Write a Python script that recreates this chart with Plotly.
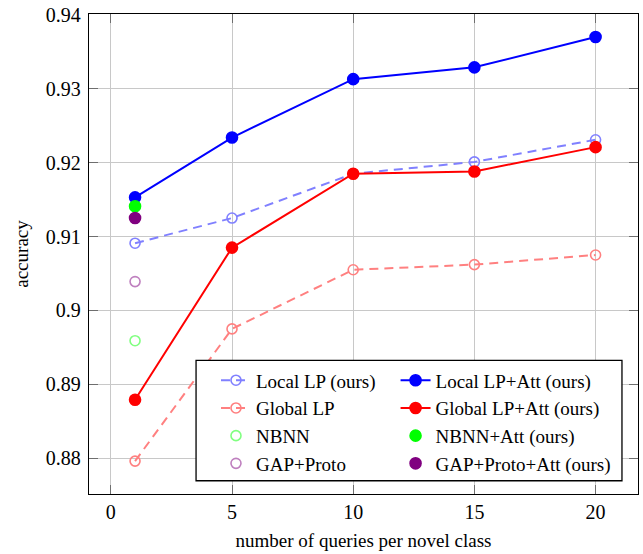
import plotly.graph_objects as go

queries = [1, 5, 10, 15, 20]
local_lp = [0.9091, 0.9125, 0.9185, 0.9201, 0.9231]
local_lp_att = [0.9153, 0.9234, 0.9313, 0.9329, 0.9370]
global_lp = [0.8796, 0.8975, 0.9055, 0.9062, 0.9075]
global_lp_att = [0.8879, 0.9085, 0.9185, 0.9188, 0.9221]
single_x = [1]
nbnn = [0.8959]
nbnn_att = [0.9141]
gap_proto = [0.9039]
gap_proto_att = [0.9125]

x_ticks = [0, 5, 10, 15, 20]
y_ticks = [0.88, 0.89, 0.90, 0.91, 0.92, 0.93, 0.94]
y_tick_text = ["0.88", "0.89", "0.9", "0.91", "0.92", "0.93", "0.94"]

FONT = "Liberation Serif"
fig = go.Figure()

def add(x, y, name, color, dash=None, filled=True, lines=True, legend="legend"):
    fig.add_trace(go.Scatter(
        x=x, y=y, name=name, legend=legend,
        mode="lines+markers" if lines else "markers",
        line=dict(color=color, width=2, dash=dash),
        marker=dict(
            symbol="circle" if filled else "circle-open",
            size=11 if filled else 10,
            color=color,
            line=dict(color=color, width=1.6),
        ),
    ))

add(queries, local_lp, "Local LP (ours)", "rgb(128,128,255)", dash="9px,6px", filled=False)
add(queries, global_lp, "Global LP", "rgb(255,128,128)", dash="9px,6px", filled=False)
add(single_x, nbnn, "NBNN", "rgb(128,255,128)", filled=False, lines=False)
add(single_x, gap_proto, "GAP+Proto", "rgb(191,128,191)", filled=False, lines=False)
add(queries, local_lp_att, "Local LP+Att (ours)", "rgb(0,0,255)", legend="legend2")
add(queries, global_lp_att, "Global LP+Att (ours)", "rgb(255,0,0)", legend="legend2")
add(single_x, nbnn_att, "NBNN+Att (ours)", "rgb(0,255,0)", lines=False, legend="legend2")
add(single_x, gap_proto_att, "GAP+Proto+Att (ours)", "rgb(128,0,128)", lines=False, legend="legend2")

axis_common = dict(
    showline=True, linecolor="black", linewidth=1.3, mirror="allticks",
    ticks="inside", ticklen=9, tickcolor="rgb(110,110,110)", tickwidth=1,
    showgrid=True, gridcolor="rgb(200,200,200)", gridwidth=1,
    zeroline=False,
    tickfont=dict(family=FONT, size=20, color="black"),
)

fig.update_layout(
    width=643, height=554,
    margin=dict(l=89, r=4, t=12, b=60),
    paper_bgcolor="white", plot_bgcolor="white",
    font=dict(family=FONT, size=19, color="black"),
    xaxis=dict(range=[-0.9, 21.75], tickvals=x_ticks,
               title=dict(text="number of queries per novel class",
                          font=dict(family=FONT, size=19), standoff=11),
               **axis_common),
    yaxis=dict(range=[0.87515, 0.94012], tickvals=y_ticks, ticktext=y_tick_text,
               ticklabelstandoff=3,
               title=dict(text="accuracy", font=dict(family=FONT, size=19), standoff=12),
               **axis_common),
    legend=dict(x=0.2313, y=0.2763, xanchor="left", yanchor="top",
                bgcolor="rgba(0,0,0,0)", borderwidth=0,
                font=dict(family=FONT, size=19), tracegroupgap=0),
    legend2=dict(x=0.5584, y=0.2763, xanchor="left", yanchor="top",
                 bgcolor="rgba(0,0,0,0)", borderwidth=0,
                 font=dict(family=FONT, size=19), tracegroupgap=0),
    shapes=[dict(type="rect", xref="paper", yref="paper",
                 x0=0.195, x1=0.9708, y0=0.0276, y1=0.2785,
                 line=dict(color="black", width=1.3), fillcolor="white",
                 layer="above")],
)

fig.write_html("out.html")
